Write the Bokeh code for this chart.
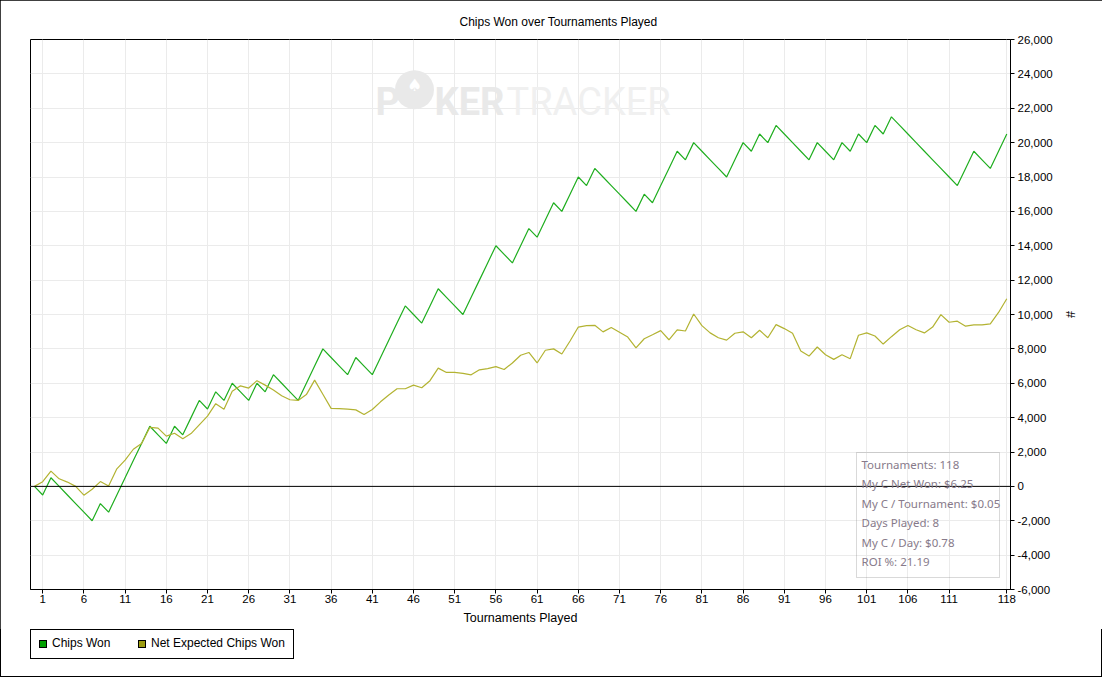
from bokeh.plotting import figure
from bokeh.layouts import column
from bokeh.models import (Range1d, FixedTicker, NumeralTickFormatter, Span, Label, Div,
                          BoxAnnotation, ColumnDataSource)
from bokeh.embed import file_html
from bokeh.resources import INLINE

# ---------------- data ----------------
tournaments = list(range(0, 119))

chips_won = [
    0, -500, 500, 0, -500, -1000, -1500, -2000, -1000, -1500,
    -500, 500, 1500, 2500, 3500, 3000, 2500, 3500, 3000, 4000,
    5000, 4500, 5500, 5000, 6000, 5500, 5000, 6000, 5500, 6500,
    6000, 5500, 5000, 6000, 7000, 8000, 7500, 7000, 6500, 7500,
    7000, 6500, 7500, 8500, 9500, 10500, 10000, 9500, 10500, 11500,
    11000, 10500, 10000, 11000, 12000, 13000, 14000, 13500, 13000, 14000,
    15000, 14500, 15500, 16500, 16000, 17000, 18000, 17500, 18500, 18000,
    17500, 17000, 16500, 16000, 17000, 16500, 17500, 18500, 19500, 19000,
    20000, 19500, 19000, 18500, 18000, 19000, 20000, 19500, 20500, 20000,
    21000, 20500, 20000, 19500, 19000, 20000, 19500, 19000, 20000, 19500,
    20500, 20000, 21000, 20500, 21500, 21000, 20500, 20000, 19500, 19000,
    18500, 18000, 17500, 18500, 19500, 19000, 18500, 19500, 20500,
]

net_expected_chips_won = [
    0, 270, 890, 440, 250, 0, -510, -170, 280, 20,
    1020, 1530, 2160, 2500, 3430, 3390, 2920, 3090, 2770, 3070,
    3580, 4090, 4810, 4490, 5530, 5850, 5720, 6150, 5890, 5610,
    5270, 5040, 5000, 5340, 6180, 5360, 4540, 4520, 4500, 4450,
    4180, 4470, 4920, 5320, 5680, 5680, 5890, 5740, 6150, 6880,
    6630, 6630, 6570, 6490, 6780, 6850, 6970, 6800, 7180, 7630,
    7790, 7180, 7920, 8000, 7700, 8460, 9270, 9350, 9370, 8990,
    9240, 8970, 8690, 8060, 8590, 8820, 9060, 8530, 9110, 9040,
    10030, 9350, 8930, 8650, 8510, 8910, 8990, 8650, 9080, 8650,
    9410, 9180, 8910, 7870, 7580, 8110, 7660, 7390, 7660, 7430,
    8790, 8930, 8750, 8280, 8710, 9110, 9360, 9110, 8930, 9270,
    9990, 9550, 9610, 9320, 9400, 9400, 9460, 10120, 10920,
]

series_names = ["Chips Won", "Net Expected Chips Won"]
x_tick_values = [1, 6, 11, 16, 21, 26, 31, 36, 41, 46, 51, 56, 61, 66, 71,
                 76, 81, 86, 91, 96, 101, 106, 111, 118]
y_tick_values = list(range(-6000, 26001, 2000))
info_lines = [
    "Tournaments: 118",
    "My C Net Won: $6.25",
    "My C / Tournament: $0.05",
    "Days Played: 8",
    "My C / Day: $0.78",
    "ROI %: 21.19",
]
chart_title = "Chips Won over Tournaments Played"
x_label = "Tournaments Played"
y_label = "#"

# ---------------- styles ----------------
GREEN_LINE = "#1fae1f"
OLIVE_LINE = "#b3b332"
GREEN_BOX = "#00a000"
OLIVE_BOX = "#9c9c10"
GRID = "#ebebeb"
UI_FONT = "Liberation Sans"

p = figure(
    frame_width=980, frame_height=550,
    x_range=Range1d(-0.48, 118.45), y_range=Range1d(-6000, 26000),
    y_axis_location="right",
    output_backend="svg", toolbar_location=None,
    min_border_left=30, min_border_top=39, min_border_right=92, min_border_bottom=40,
)
p.background_fill_color = "white"
p.border_fill_color = "white"
p.outline_line_color = "black"
p.outline_line_width = 1

# title
p.title.text = chart_title
p.title.align = "left"
p.title.offset = 429
p.title.standoff = 21
p.title.text_font = UI_FONT
p.title.text_font_size = "12px"
p.title.text_font_style = "normal"
p.title.text_color = "black"

# axes
xa = p.xaxis[0]
xa.ticker = FixedTicker(ticks=x_tick_values)
xa.axis_label = x_label
ya = p.yaxis[0]
ya.ticker = FixedTicker(ticks=y_tick_values)
ya.formatter = NumeralTickFormatter(format="0,0")
ya.axis_label = y_label
for ax in (xa, ya):
    ax.axis_line_color = "black"
    ax.major_tick_line_color = "black"
    ax.major_tick_out = 4
    ax.major_tick_in = 0
    ax.minor_tick_out = 0
    ax.minor_tick_in = 0
    ax.major_label_text_font = UI_FONT
    ax.major_label_text_font_size = "11.5px"
    ax.major_label_text_color = "black"
    ax.axis_label_text_font = UI_FONT
    ax.axis_label_text_font_size = "12.5px"
    ax.axis_label_text_font_style = "normal"
    ax.axis_label_text_color = "black"
xa.major_label_standoff = 1
xa.axis_label_standoff = 5
ya.major_label_standoff = 3
ya.axis_label_standoff = 7

# grids
p.xgrid.ticker = FixedTicker(ticks=x_tick_values)
p.ygrid.ticker = FixedTicker(ticks=y_tick_values)
p.xgrid.grid_line_color = GRID
p.ygrid.grid_line_color = GRID

# watermark
wm_y = 488
for txt, xx, style, col in [("P", 345, "bold", "#e9e9e9"), ("KER", 404, "bold", "#e9e9e9"),
                            ("TRACKER", 476, "normal", "#f0f0f0")]:
    p.add_layout(Label(x=xx, y=wm_y, x_units="screen", y_units="screen", text=txt,
                       text_font="Roboto", text_font_size="38px", text_font_style=style,
                       text_color=col, text_baseline="alphabetic", level="underlay"))
p.add_layout(Label(x=384, y=504, x_units="screen", y_units="screen", text="\u25cf",
                   text_font="DejaVu Sans", text_font_size="51px", text_color="#e9e9e9",
                   text_align="center", text_baseline="middle", level="underlay"))
p.add_layout(Label(x=384, y=505, x_units="screen", y_units="screen", text="\u2660",
                   text_font="DejaVu Sans", text_font_size="17px", text_color="white",
                   text_align="center", text_baseline="middle", level="underlay"))

# zero line
p.add_layout(Span(location=0, dimension="width", line_color="black", line_width=1))

# series
src = ColumnDataSource(dict(t=tournaments, chips=chips_won, net=net_expected_chips_won))
p.line("t", "chips", source=src, line_color=GREEN_LINE, line_width=1.2)
p.line("t", "net", source=src, line_color=OLIVE_LINE, line_width=1.2)

# info box
p.add_layout(BoxAnnotation(left=826, right=969, bottom=12, top=137,
                           left_units="screen", right_units="screen",
                           top_units="screen", bottom_units="screen",
                           fill_color=None, fill_alpha=0, line_color="#808080", line_width=1))
for i, txt in enumerate(info_lines):
    p.add_layout(Label(x=831, y=125 - i * 19.4, x_units="screen", y_units="screen", text=txt,
                       text_font="Noto Sans", text_font_size="11.5px", text_color="#877a8a",
                       text_baseline="middle"))

# ---------------- legend strip below the chart ----------------
SQ = "position:absolute;top:11px;width:6px;height:6px;border:1px solid black;box-sizing:content-box;"
TX = "position:absolute;top:7px;line-height:15px;white-space:nowrap;"
legend_html = (
    "<div style=\"position:relative;width:1102px;height:48px;"
    "font-family:'Liberation Sans',Arial,sans-serif;font-size:12px;color:black;\">"
    "<div style=\"position:absolute;left:30px;top:0px;width:262px;height:28px;"
    "border:1px solid black;box-sizing:content-box;\"></div>"
    f"<div style=\"{SQ}left:39px;background:{GREEN_BOX};\"></div>"
    f"<span style=\"{TX}left:52px;\">{series_names[0]}</span>"
    f"<div style=\"{SQ}left:138px;background:{OLIVE_BOX};\"></div>"
    f"<span style=\"{TX}left:151px;\">{series_names[1]}</span>"
    "</div>"
)
legend_div = Div(text=legend_html, width=1102, height=48, margin=0)

layout = column(p, legend_div, spacing=0)
layout.styles = {"outline": "1px solid black", "outline-offset": "-1px"}

open("out.html", "w").write(file_html(layout, INLINE))
